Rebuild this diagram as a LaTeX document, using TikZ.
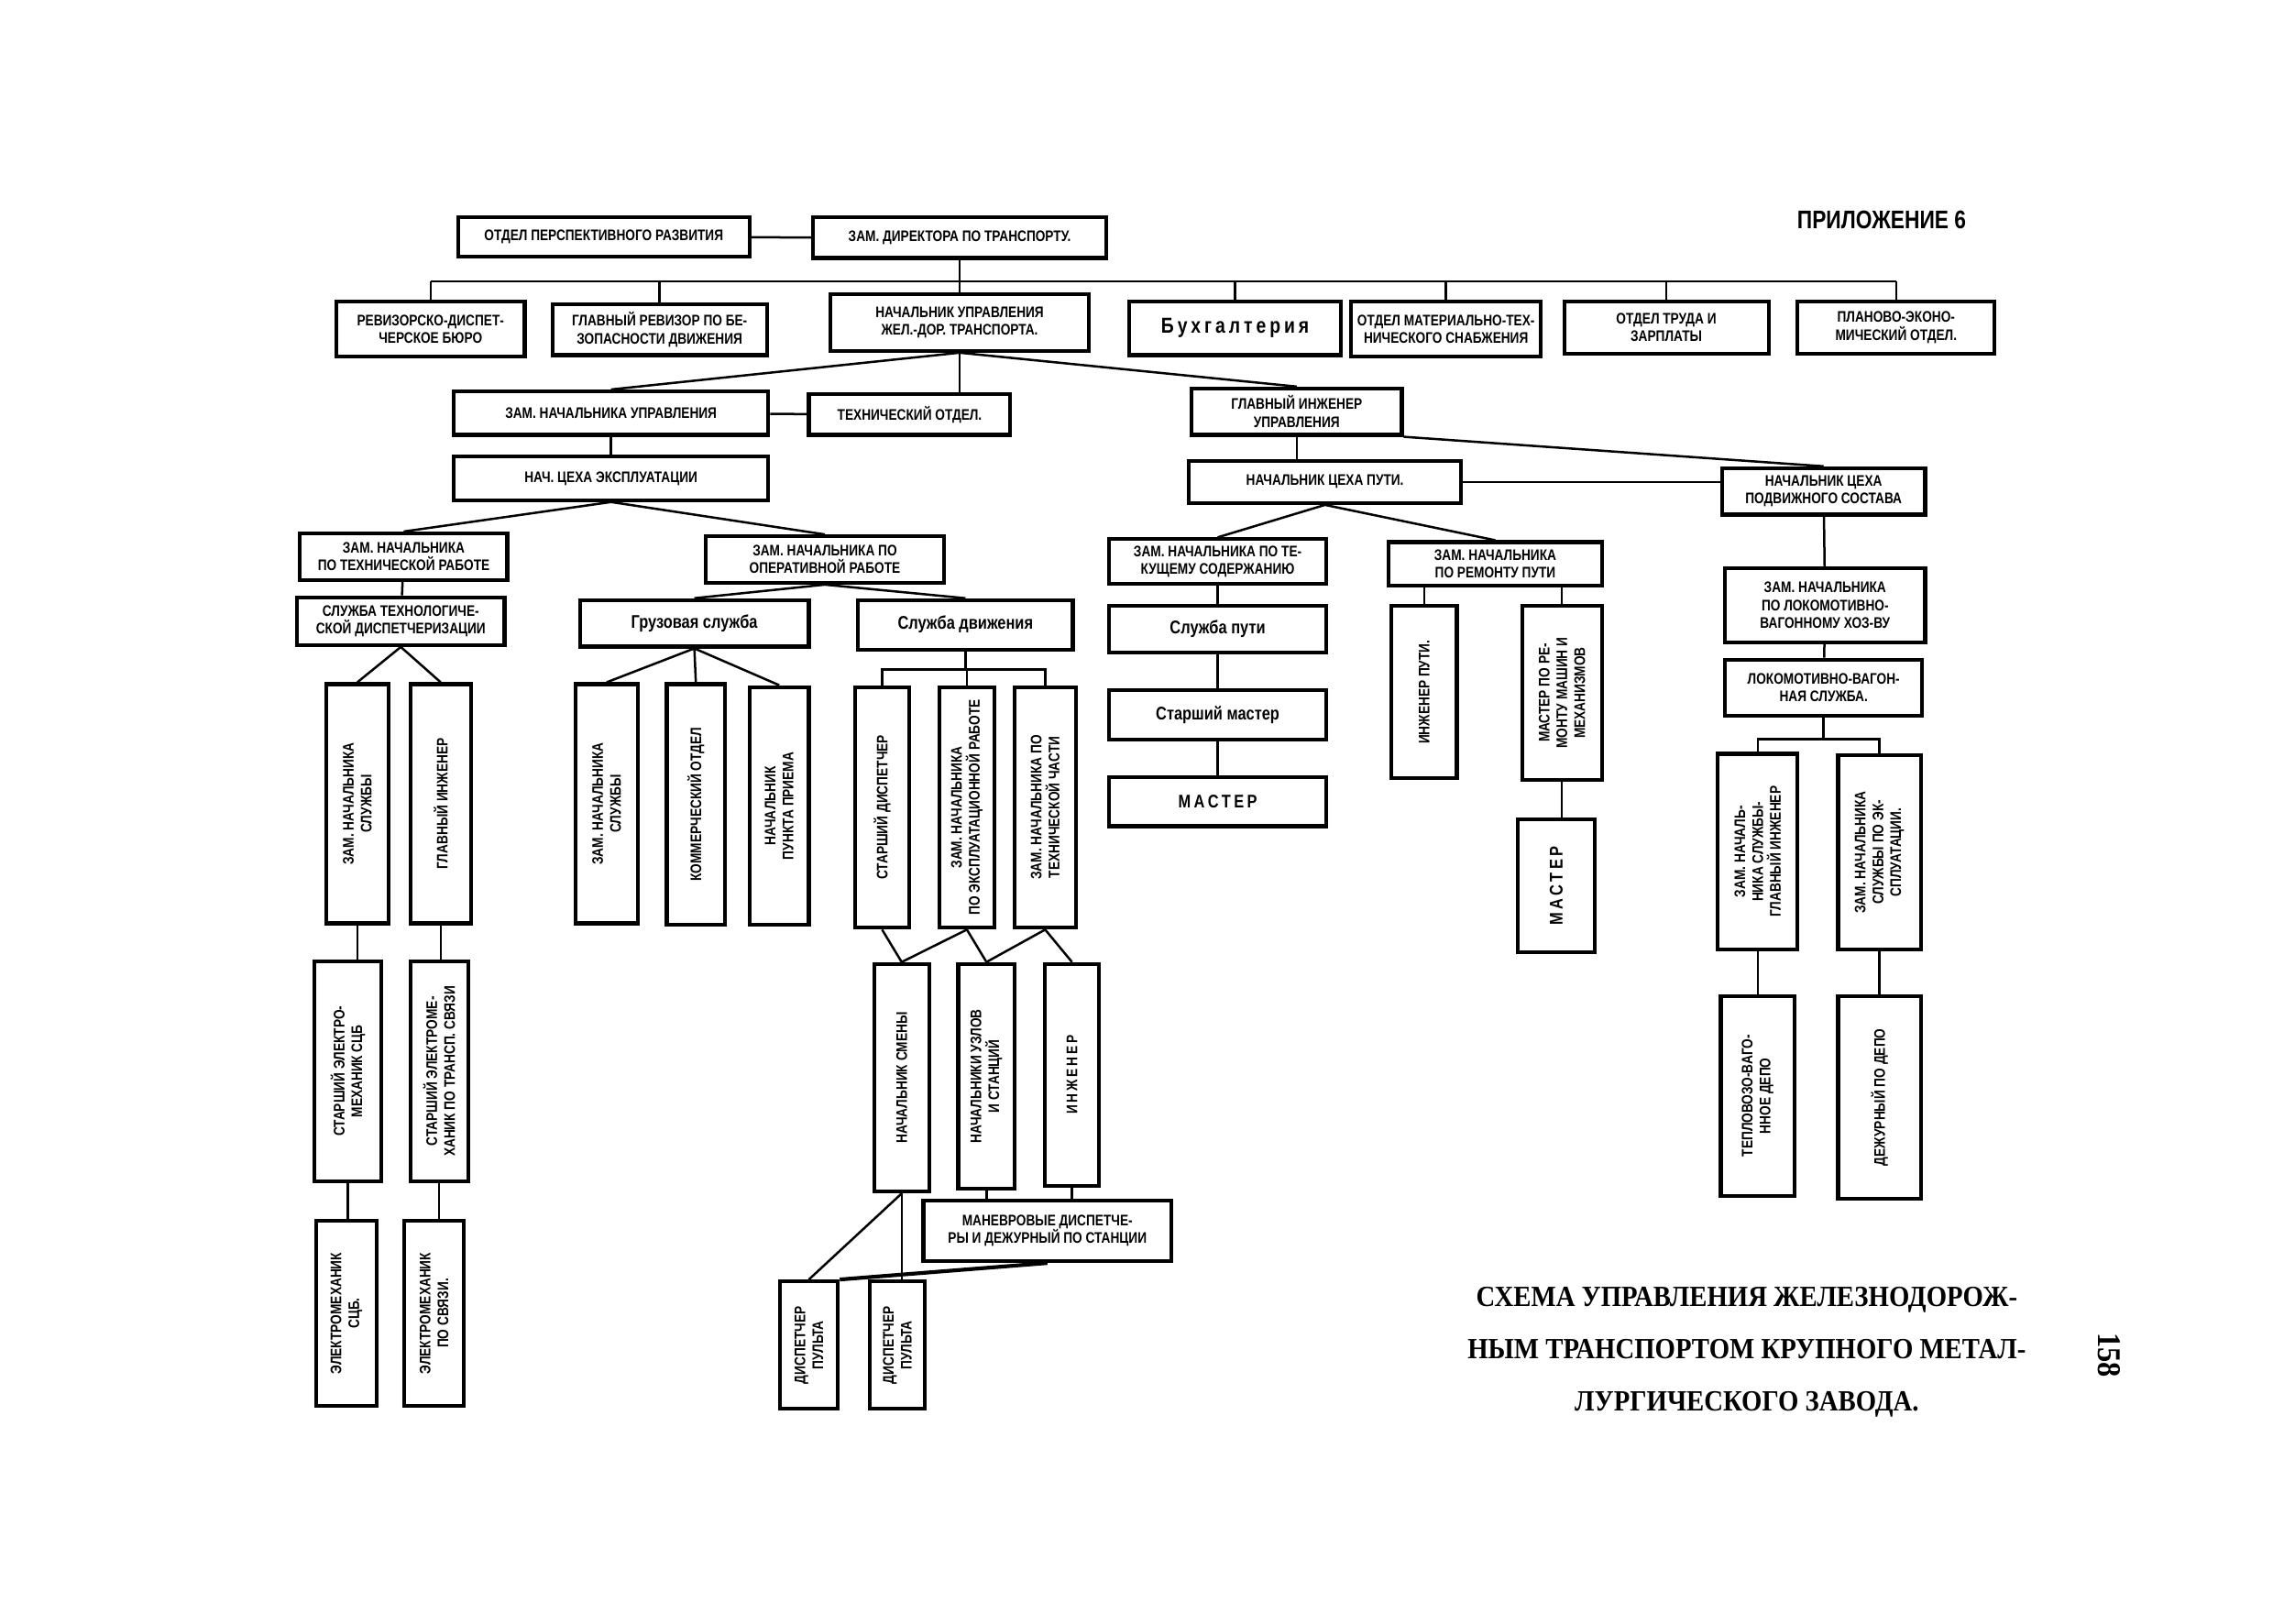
\documentclass[tikz,border=0pt]{standalone}
\usepackage{fontspec}
\setmainfont{Liberation Sans}[FakeStretch=0.82]
\newfontfamily\titlefont{Liberation Serif}[FakeStretch=0.9]
\usetikzlibrary{positioning}
\def\px{0.02cm}
\tikzset{
  box/.style  ={draw,line width=1.5pt,fill=white,inner sep=1pt,align=center,
                font=\bfseries\fontsize{6}{7}\selectfont},
  sz/.style 2 args={minimum width=#1*\px,minimum height=#2*\px},
  big/.style  ={font=\bfseries\fontsize{7.2}{8}\selectfont},
  vtext/.style={rotate=90,align=center,inner sep=0pt,
                font=\bfseries\fontsize{6}{7}\selectfont},
  link/.style ={line width=0.9pt}
}
\begin{document}
\begin{tikzpicture}[x=\px,y=-\px]
\useasboundingbox (0,0) rectangle (1568,1120);
% top level
\node[box,sz={201}{27}] (persp) at (416.5,163.5) {ОТДЕЛ ПЕРСПЕКТИВНОГО РАЗВИТИЯ};
\node[box,sz={202}{28}] (zamdir) at (662,164) {ЗАМ. ДИРЕКТОРА ПО ТРАНСПОРТУ.};
\draw[link] (persp) -- (zamdir);
\node[box,sz={130}{38}] (revdisp) at (297,227) {РЕВИЗОРСКО-ДИСПЕТ-\\ЧЕРСКОЕ БЮРО};
\node[box,sz={148}{35}] (glrev) at (455,227.5) {ГЛАВНЫЙ РЕВИЗОР ПО БЕ-\\ЗОПАСНОСТИ ДВИЖЕНИЯ};
\node[box,sz={178}{39}] (nachupr) at (662,222.5) {НАЧАЛЬНИК УПРАВЛЕНИЯ\\ЖЕЛ.-ДОР. ТРАНСПОРТА.};
\node[box,sz={146}{37},font=\bfseries\fontsize{8.5}{9}\selectfont] (buh) at (852,226.5) {Б\,у\,х\,г\,а\,л\,т\,е\,р\,и\,я};
\node[box,sz={131}{38}] (omts) at (997.5,227) {ОТДЕЛ МАТЕРИАЛЬНО-ТЕХ-\\НИЧЕСКОГО СНАБЖЕНИЯ};
\node[box,sz={141}{36}] (otz) at (1149.5,226) {ОТДЕЛ ТРУДА И\\ЗАРПЛАТЫ};
\node[box,sz={136}{36}] (peo) at (1308,226) {ПЛАНОВО-ЭКОНО-\\МИЧЕСКИЙ ОТДЕЛ.};
\coordinate (busL) at (297,194);
\coordinate (busR) at (1308,194);
\draw[link] (busL) -- (busR);
\foreach \n in {revdisp,glrev,buh,omts,otz,peo}
  \draw[link] (\n.north) -- (\n.north |- busL);
\draw[link] (zamdir) -- (nachupr);
% management
\node[box,sz={217}{30}] (zamnach) at (421.5,285) {ЗАМ. НАЧАЛЬНИКА УПРАВЛЕНИЯ};
\node[box,sz={139}{28}] (tehotd) at (627.5,286) {ТЕХНИЧЕСКИЙ ОТДЕЛ.};
\node[box,sz={145}{32}] (glinzh) at (894.5,284) {ГЛАВНЫЙ ИНЖЕНЕР\\УПРАВЛЕНИЯ};
\draw[link] (nachupr.south) -- (tehotd.north -| nachupr.south);
\draw[link] (nachupr.south) -- (zamnach.north);
\draw[link] (nachupr.south) -- (glinzh.north);
\draw[link] (zamnach) -- (tehotd);
\node[box,sz={217}{30}] (nachexp) at (421.5,330) {НАЧ. ЦЕХА ЭКСПЛУАТАЦИИ};
\node[box,sz={188}{29}] (nachput) at (914,332.5) {НАЧАЛЬНИК ЦЕХА ПУТИ.};
\node[box,sz={140}{32}] (nachpod) at (1258,339) {НАЧАЛЬНИК ЦЕХА\\ПОДВИЖНОГО СОСТАВА};
\draw[link] (zamnach) -- (nachexp);
\draw[link] (glinzh.south) -- (glinzh.south |- nachput.north);
\draw[link] (nachput.east) -- (nachput.east -| nachpod.west);
\draw[link] (glinzh.south east) -- (nachpod.north);
% deputies
\node[box,sz={143}{32}] (zamteh) at (278.5,384) {ЗАМ. НАЧАЛЬНИКА\\ПО ТЕХНИЧЕСКОЙ РАБОТЕ};
\node[box,sz={164}{32}] (zamoper) at (569,386) {ЗАМ. НАЧАЛЬНИКА ПО\\ОПЕРАТИВНОЙ РАБОТЕ};
\node[box,sz={150}{31}] (zamtek) at (840,387.5) {ЗАМ. НАЧАЛЬНИКА ПО ТЕ-\\КУЩЕМУ СОДЕРЖАНИЮ};
\node[box,sz={147}{30}] (zamrem) at (1031.5,389) {ЗАМ. НАЧАЛЬНИКА\\ПО РЕМОНТУ ПУТИ};
\node[box,sz={138}{51}] (zamlok) at (1259,417.5) {ЗАМ. НАЧАЛЬНИКА\\ПО ЛОКОМОТИВНО-\\ВАГОННОМУ ХОЗ-ВУ};
\draw[link] (nachexp.south) -- (zamteh.north);
\draw[link] (nachexp.south) -- (zamoper.north);
\draw[link] (nachput.south) -- (zamtek.north);
\draw[link] (nachput.south) -- (zamrem.north);
\draw[link] (nachpod) -- (zamlok);
% services
\node[box,sz={143}{33}] (sltd) at (276.5,428.5) {СЛУЖБА ТЕХНОЛОГИЧЕ-\\СКОЙ ДИСПЕТЧЕРИЗАЦИИ};
\node[box,big,sz={158}{32}] (gruz) at (479,430) {Грузовая служба};
\node[box,big,sz={148}{34}] (sldv) at (666,431) {Служба движения};
\node[box,big,sz={150}{32}] (slput) at (840,434) {Служба пути};
\node[box,big,sz={150}{34}] (stmast) at (840,493) {Старший мастер};
\node[box,big,sz={150}{34}] (masth) at (840,553) {М\,А\,С\,Т\,Е\,Р};
\node[box,sz={136}{39}] (lvs) at (1258,474.5) {ЛОКОМОТИВНО-ВАГОН-\\НАЯ СЛУЖБА.};
\draw[link] (zamteh) -- (sltd);
\draw[link] (zamoper.south) -- (gruz.north);
\draw[link] (zamoper.south) -- (sldv.north);
\draw[link] (zamtek.south) -- (zamtek.south |- slput.north);
\draw[link] (slput) -- (stmast);
\draw[link] (stmast) -- (masth);
\draw[link] (zamlok) -- (lvs);
% technical work branch
\node[box,sz={43}{165},label={[vtext]center:{ЗАМ. НАЧАЛЬНИКА\\СЛУЖБЫ}}] (zamsl1) at (246.5,554.5) {};
\node[box,sz={42}{165},label={[vtext]center:{ГЛАВНЫЙ ИНЖЕНЕР}}] (glinzh2) at (304,554.5) {};
\node[box,sz={46}{152},label={[vtext]center:{СТАРШИЙ ЭЛЕКТРО-\\МЕХАНИК СЦБ}}] (stel1) at (240,739) {};
\node[box,sz={40}{152},label={[vtext]center:{СТАРШИЙ ЭЛЕКТРОМЕ-\\ХАНИК ПО ТРАНСП. СВЯЗИ}}] (stel2) at (303,739) {};
\node[box,sz={42}{128},label={[vtext]center:{ЭЛЕКТРОМЕХАНИК\\СЦБ.}}] (el1) at (239,906) {};
\node[box,sz={41}{128},label={[vtext]center:{ЭЛЕКТРОМЕХАНИК\\ПО СВЯЗИ.}}] (el2) at (299.5,906) {};
\draw[link] (sltd.south) -- (zamsl1.north);
\draw[link] (sltd.south) -- (glinzh2.north);
\draw[link] (zamsl1.south) -- (zamsl1.south |- stel1.north);
\draw[link] (glinzh2.south) -- (glinzh2.south |- stel2.north);
\draw[link] (stel1.south) -- (stel1.south |- el1.north);
\draw[link] (stel2.south) -- (stel2.south |- el2.north);
% freight service
\node[box,sz={43}{165},label={[vtext]center:{ЗАМ. НАЧАЛЬНИКА\\СЛУЖБЫ}}] (zamsl2) at (418.5,554.5) {};
\node[box,sz={40}{166},label={[vtext]center:{КОММЕРЧЕСКИЙ ОТДЕЛ}}] (komm) at (480,555) {};
\node[box,sz={41}{164},label={[vtext]center:{НАЧАЛЬНИК\\ПУНКТА ПРИЕМА}}] (nachpp) at (537.5,556) {};
\draw[link] (gruz.south) -- (zamsl2.north);
\draw[link] (gruz.south) -- (komm.north);
\draw[link] (gruz.south) -- (nachpp.north);
% traffic service
\node[box,sz={37}{166},label={[vtext]center:{СТАРШИЙ ДИСПЕТЧЕР}}] (stdisp) at (608.5,557) {};
\node[box,sz={38}{166},label={[vtext]center:{ЗАМ. НАЧАЛЬНИКА\\ПО ЭКСПЛУАТАЦИОННОЙ РАБОТЕ}}] (zamexp) at (667,557) {};
\node[box,sz={42}{166},label={[vtext]center:{ЗАМ. НАЧАЛЬНИКА ПО\\ТЕХНИЧЕСКОЙ ЧАСТИ}}] (zamtch) at (721,557) {};
\coordinate (dvbus) at (666,462);
\draw[link] (sldv.south) -- (dvbus);
\draw[link] (stdisp.north) |- (dvbus) -| (zamtch.north);
\draw[link] (zamexp.north) -- (zamexp.north |- dvbus);
\node[box,sz={38}{157},label={[vtext]center:{НАЧАЛЬНИК СМЕНЫ}}] (nsmen) at (622,743.5) {};
\node[box,sz={39}{155},label={[vtext]center:{НАЧАЛЬНИКИ УЗЛОВ\\И СТАНЦИЙ}}] (nst) at (680.5,742.5) {};
\node[box,sz={37}{153},label={[vtext]center:{И\,Н\,Ж\,Е\,Н\,Е\,Р}}] (inzh) at (739.5,741.5) {};
\draw[link] (stdisp.south) -- (nsmen.north);
\draw[link] (zamexp.south) -- (nsmen.north);
\draw[link] (zamexp.south) -- (nst.north);
\draw[link] (zamtch.south) -- (nst.north);
\draw[link] (zamtch.south) -- (inzh.north);
\node[box,sz={171}{42}] (mandisp) at (722.5,849) {МАНЕВРОВЫЕ ДИСПЕТЧЕ-\\РЫ И ДЕЖУРНЫЙ ПО СТАНЦИИ};
\draw[link] (nst.south) -- (nst.south |- mandisp.north);
\draw[link] (inzh.south) -- (inzh.south |- mandisp.north);
\node[box,sz={40}{88},label={[vtext]center:{ДИСПЕТЧЕР\\ПУЛЬТА}}] (disp1) at (558,928) {};
\node[box,sz={38}{88},label={[vtext]center:{ДИСПЕТЧЕР\\ПУЛЬТА}}] (disp2) at (619,928) {};
\draw[link] (nsmen.south) -- (disp1.north);
\draw[link] (nsmen.south) -- (nsmen.south |- disp2.north);
\draw[line width=1.5pt] (mandisp.south) -- (disp1.north east);
% track repair
\node[box,sz={45}{119},label={[vtext]center:{ИНЖЕНЕР ПУТИ.}}] (inzhput) at (982.5,477.5) {};
\node[box,sz={55}{120},label={[vtext]center:{МАСТЕР ПО РЕ-\\МОНТУ МАШИН И\\МЕХАНИЗМОВ}}] (mastrem) at (1077.5,478) {};
\node[box,sz={53}{92},label={[vtext,font=\bfseries\fontsize{7.2}{8}\selectfont]center:{М\,А\,С\,Т\,Е\,Р}}] (mastv) at (1073.5,611) {};
\draw[link] (inzhput.north) -- (inzhput.north |- zamrem.south);
\draw[link] (mastrem.north) -- (mastrem.north |- zamrem.south);
\draw[link] (mastrem.south) -- (mastrem.south |- mastv.north);
% rolling stock
\node[box,sz={55}{135},label={[vtext]center:{ЗАМ. НАЧАЛЬ-\\НИКА СЛУЖБЫ-\\ГЛАВНЫЙ ИНЖЕНЕР}}] (zamgl) at (1212.5,587.5) {};
\node[box,sz={57}{134},label={[vtext]center:{ЗАМ. НАЧАЛЬНИКА\\СЛУЖБЫ ПО ЭК-\\СПЛУАТАЦИИ.}}] (zamexp2) at (1296.5,588) {};
\node[box,sz={51}{138},label={[vtext]center:{ТЕПЛОВОЗО-ВАГО-\\ННОЕ ДЕПО}}] (depo) at (1212.5,756) {};
\node[box,sz={57}{140},label={[vtext]center:{ДЕЖУРНЫЙ ПО ДЕПО}}] (dezh) at (1296.5,757) {};
\coordinate (lvbus) at (1258,510);
\draw[link] (lvs.south) -- (lvbus);
\draw[link] (zamgl.north) |- (lvbus) -| (zamexp2.north);
\draw[link] (zamgl) -- (depo);
\draw[link] (zamexp2) -- (dezh);
% captions
\node[font=\bfseries\fontsize{10}{12}\selectfont] (appx) at (1298,152) {ПРИЛОЖЕНИЕ 6};
\node[align=center,font=\titlefont\bfseries\fontsize{11.5}{20.5}\selectfont] (title) at (1205,933)
  {СХЕМА УПРАВЛЕНИЯ ЖЕЛЕЗНОДОРОЖ-\\НЫМ ТРАНСПОРТОМ КРУПНОГО МЕТАЛ-\\ЛУРГИЧЕСКОГО ЗАВОДА.};
\node[rotate=-90,font=\titlefont\bfseries\fontsize{13}{15}\selectfont] (page) at (1455,935) {158};
\end{tikzpicture}
\end{document}
